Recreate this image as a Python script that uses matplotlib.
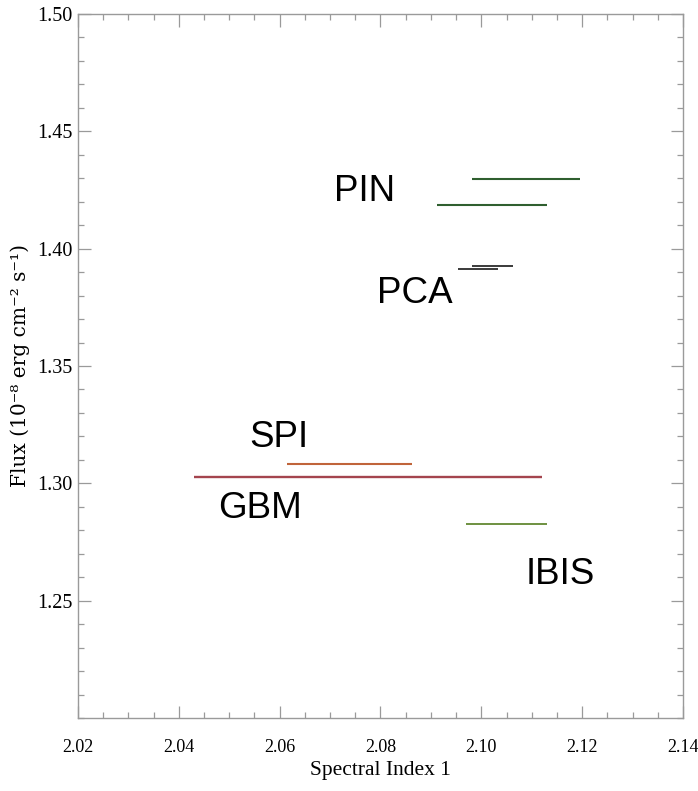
import matplotlib
matplotlib.use("Agg")
import matplotlib.pyplot as plt
import matplotlib.ticker as mticker

# segments: spectral index range and flux for each instrument fit
instrument = ["PIN", "PIN", "PCA", "PCA", "SPI", "GBM", "IBIS"]
index_lo = [2.0982, 2.0912, 2.0982, 2.0953, 2.0614, 2.0430, 2.0970]
index_hi = [2.1196, 2.1131, 2.1062, 2.1034, 2.0862, 2.1121, 2.1130]
flux = [1.4295, 1.4185, 1.3927, 1.3915, 1.3084, 1.3027, 1.2828]

COLORS = {"PIN": "#2f5f2f", "PCA": "#3a3a3a", "SPI": "#c0643a",
          "GBM": "#a4444e", "IBIS": "#6e9040"}
WIDTHS = {"PIN": 1.5, "PCA": 1.4, "SPI": 1.5, "GBM": 1.7, "IBIS": 1.4}

# label anchors (data coords, baseline)
LABELS = [("PIN", 2.0769, 1.4201), ("PCA", 2.0869, 1.3769),
          ("SPI", 2.0599, 1.3154), ("GBM", 2.0562, 1.2853),
          ("IBIS", 2.1156, 1.2573)]

fig = plt.figure(figsize=(6.98, 7.91), dpi=100)
ax = fig.add_axes([0.1117, 0.0923, 0.8668, 0.8900])

for name, lo, hi, f in zip(instrument, index_lo, index_hi, flux):
    ax.plot([lo, hi], [f, f], color=COLORS[name], lw=WIDTHS[name],
            solid_capstyle="butt")

for name, x, y in LABELS:
    ax.text(x, y, name, fontsize=26.5, family="Liberation Sans",
            ha="center", va="baseline")

ax.set_xlim(2.02, 2.14)
ax.set_ylim(1.20, 1.50)
ax.xaxis.set_major_locator(mticker.MultipleLocator(0.02))
ax.xaxis.set_minor_locator(mticker.MultipleLocator(0.005))
ax.yaxis.set_major_locator(mticker.FixedLocator([1.25, 1.30, 1.35, 1.40, 1.45, 1.50]))
ax.yaxis.set_minor_locator(mticker.MultipleLocator(0.01))
ax.xaxis.set_major_formatter(mticker.FormatStrFormatter("%.2f"))
ax.yaxis.set_major_formatter(mticker.FormatStrFormatter("%.2f"))

spine_c = "#9a9a9a"
for s in ax.spines.values():
    s.set_color(spine_c)
    s.set_linewidth(1.0)
ax.tick_params(which="both", direction="in", top=True, right=True,
               color=spine_c, width=0.9)
ax.tick_params(which="major", length=9)
ax.tick_params(which="minor", length=4.5)
ax.tick_params(axis="x", which="major", pad=15)
ax.tick_params(axis="y", which="major", pad=4)
for lab in ax.get_xticklabels():
    lab.set_family("Liberation Serif")
    lab.set_fontsize(13)
for lab in ax.get_yticklabels():
    lab.set_family("Liberation Serif")
    lab.set_fontsize(14.5)

ax.set_xlabel("Spectral Index 1", family="Liberation Serif", fontsize=15.5,
              labelpad=4)
ax.set_ylabel("Flux (10\u207b\u2078 erg cm\u207b\u00b2 s\u207b\u00b9)",
              family="DejaVu Serif", fontsize=14.5, labelpad=5)

fig.savefig("out.png", dpi=100)
